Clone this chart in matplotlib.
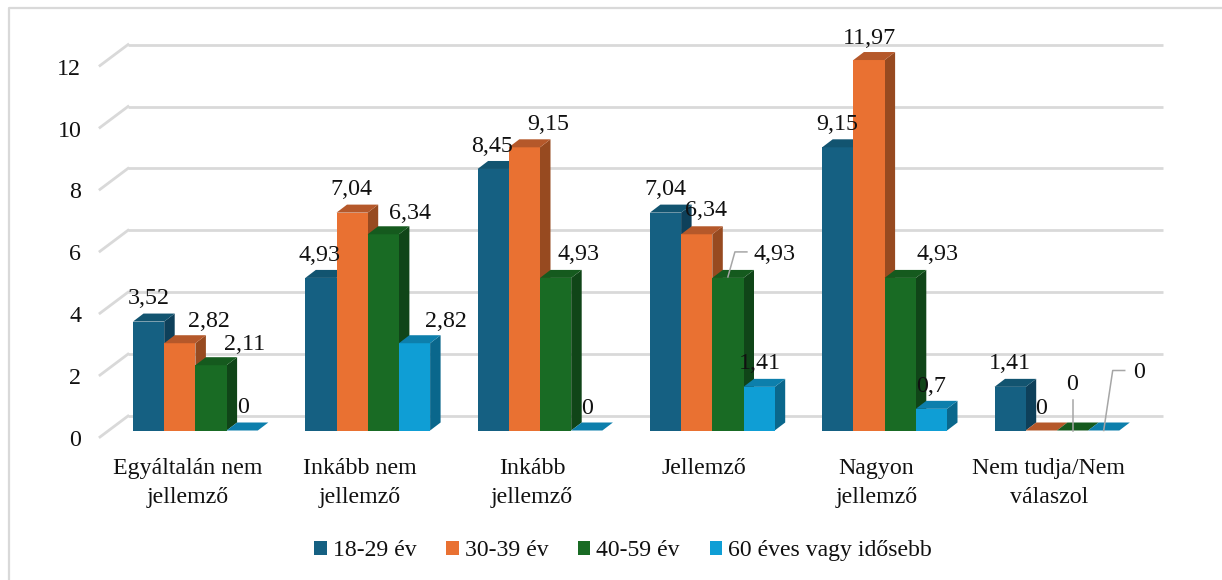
import matplotlib
matplotlib.use("Agg")
import matplotlib.pyplot as plt
from matplotlib.lines import Line2D
from matplotlib.patches import Polygon, Patch, Rectangle
from matplotlib.transforms import ScaledTranslation

plt.rcParams["font.family"] = ["Liberation Serif", "DejaVu Serif"]

categories = ["Egyáltalán nem\njellemző", "Inkább nem\njellemző", "Inkább\njellemző",
              "Jellemző", "Nagyon\njellemző", "Nem tudja/Nem\nválaszol"]
series_names = ["18-29 év", "30-39 év", "40-59 év", "60 éves vagy idősebb"]
age_18_29 = [3.52, 4.93, 8.45, 7.04, 9.15, 1.41]
age_30_39 = [2.82, 7.04, 9.15, 6.34, 11.97, 0]
age_40_59 = [2.11, 6.34, 4.93, 4.93, 4.93, 0]
age_60_plus = [0, 2.82, 0, 1.41, 0.7, 0]
series = [age_18_29, age_30_39, age_40_59, age_60_plus]
y_ticks = [0, 2, 4, 6, 8, 10, 12]

# front, side and top face shades per series
front = ["#156082", "#E97132", "#196B24", "#0F9ED5"]
side = ["#0E405A", "#974A20", "#104518", "#0A678C"]
top = ["#125470", "#B5582A", "#155A1E", "#0D7FAC"]
GRID = "#D9D9D9"
INK = "#111111"

W, H = 1222, 580
PITCH, BAR_W = 172.3, 31.2
PX_PER_UNIT = 30.95
AX_L, AX_R, AX_T, AX_B = 100, 1163, 59, 430.5
CENTER0 = 195.4

fig = plt.figure(figsize=(W / 100, H / 100), dpi=100, facecolor="white")
ax = fig.add_axes([AX_L / W, 1 - AX_B / H, (AX_R - AX_L) / W, (AX_B - AX_T) / H])
ax.set_xlim((AX_L - CENTER0) / PITCH, (AX_R - CENTER0) / PITCH)
ax.set_ylim(0, (AX_B - AX_T) / PX_PER_UNIT)
ax.patch.set_visible(False)
for s in ax.spines.values():
    s.set_visible(False)


def ux(px):
    return px / PITCH


def uy(px):
    return px / PX_PER_UNIT


# chart frame: only the top and left edges are drawn
fig.add_artist(Line2D([9 / W, 9 / W, 1], [0, 1 - 7.5 / H, 1 - 7.5 / H],
                      transform=fig.transFigure, color=GRID, lw=1.6))

# back wall gridlines and the slanted side-wall strokes
left_x, right_x = ax.get_xlim()
for v in y_ticks:
    ax.plot([left_x + ux(28), right_x], [v + uy(14.5)] * 2, color=GRID, lw=2, zorder=1,
            clip_on=False, solid_capstyle="butt")
    ax.plot([left_x, left_x + ux(28)], [v - uy(6.5), v + uy(14.5)], color=GRID, lw=2,
            zorder=1, clip_on=False)

# bars as front, side and top faces
DX, DY = ux(10.5), uy(8)
bw = ux(BAR_W)
for g in range(len(categories)):
    for k, vals in enumerate(series):
        v = vals[g]
        x0 = g - 2 * bw + k * bw
        x1 = x0 + bw
        z = 3 + k + g * 10
        if v > 0:
            ax.add_patch(Polygon([(x1, 0), (x1 + DX, DY), (x1 + DX, v + DY), (x1, v)],
                                 fc=side[k], ec="none", zorder=z, clip_on=False))
            ax.add_patch(Rectangle((x0, 0), bw, v, fc=front[k], ec="none", zorder=z,
                                   clip_on=False))
        ax.add_patch(Polygon([(x0, v), (x1, v), (x1 + DX, v + DY), (x0 + DX, v + DY)],
                             fc=top[k], ec="none", zorder=z, clip_on=False))

# value label offsets from each bar's front top centre, in pixels
label_offsets = [
    [(0, 23), (29, 22), (34, 21), (1, 23)],
    [(-1, 22), (-1, 23), (27, 21), (31.5, 22)],
    [(-1, 22), (24, 23), (23, 23), (0, 22.5)],
    [(0, 23), (9, 24), (47, 23), (1, 23)],
    [(-1, 23), (0, 22), (37, 23), (0, 22)],
    [(0, 23), (0, 22.5), (0, 45.5), (35, 57.5)],
]
for g in range(len(categories)):
    for k, vals in enumerate(series):
        v = vals[g]
        xc = g - 2 * bw + (k + 0.5) * bw
        ax.annotate(f"{v:g}".replace(".", ","), (xc, v), xytext=label_offsets[g][k],
                    textcoords="offset pixels", ha="center", va="center",
                    fontsize=17.3, color=INK, zorder=200, annotation_clip=False)

# leader lines for labels moved away from their bars: (group, series, pixel path)
leaders = [
    (3, 2, [(0, 1), (7, 26), (19, 26)]),
    (5, 2, [(0, 0), (0, 31)]),
    (5, 3, [(0, 0), (9, 60), (21, 60)]),
]
for g, k, path in leaders:
    xc = g - 2 * bw + (k + 0.5) * bw
    v = series[k][g]
    ax.plot([xc + ux(p[0]) for p in path], [v + uy(p[1]) for p in path], color="#A6A6A6",
            lw=1.1, zorder=150, clip_on=False)

# axis labels; category labels sit slightly left of their bar groups
ax.set_xticks([g - ux(8) for g in range(len(categories))])
ax.set_xticklabels(categories, fontsize=17.2, linespacing=1.5)
ax.set_yticks(y_ticks)
ax.set_yticklabels([str(t) for t in y_ticks], fontsize=17.3)
ax.tick_params(axis="x", length=0, pad=20, colors=INK)
ax.tick_params(axis="y", length=0, pad=13.5, colors=INK)
fig.canvas.draw()
shift = ScaledTranslation(0, -7.5 / 100, fig.dpi_scale_trans)
for lab in ax.get_yticklabels():
    lab.set_transform(lab.get_transform() + shift)

handles = [Patch(fc=c, ec="none") for c in front]
fig.legend(handles, series_names, ncol=4, frameon=False, loc="center",
           bbox_to_anchor=(623 / W, 1 - 550.5 / H), fontsize=17.1, handlelength=0.53,
           handleheight=0.53, handletextpad=0.25, columnspacing=1.25, labelcolor=INK)

fig.savefig("out.png", dpi=100)
